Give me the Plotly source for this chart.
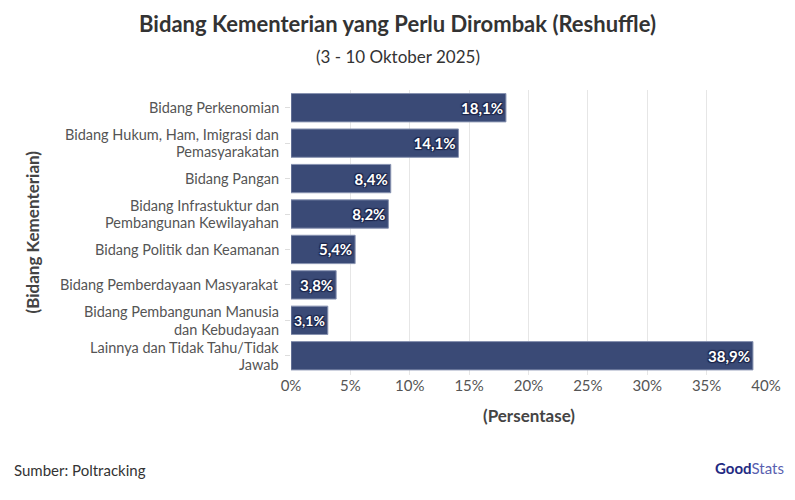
import plotly.graph_objects as go

categories = [
    "Bidang Perkenomian",
    "Bidang Hukum, Ham, Imigrasi dan<br>Pemasyarakatan",
    "Bidang Pangan",
    "Bidang Infrastuktur dan<br>Pembangunan Kewilayahan",
    "Bidang Politik dan Keamanan",
    "Bidang Pemberdayaan Masyarakat",
    "Bidang Pembangunan Manusia<br>dan Kebudayaan",
    "Lainnya dan Tidak Tahu/Tidak<br>Jawab",
]
values = [18.1, 14.1, 8.4, 8.2, 5.4, 3.8, 3.1, 38.9]
labels = ["18,1%", "14,1%", "8,4%", "8,2%", "5,4%", "3,8%", "3,1%", "38,9%"]
tick_vals = [0, 5, 10, 15, 20, 25, 30, 35, 40]
tick_text = ["0%", "5%", "10%", "15%", "20%", "25%", "30%", "35%", "40%"]

FONT = "Lato"
W, H = 795, 500
L, R, T, B = 291, 29, 90, 125
PW = W - L - R
PH = H - T - B
CAT_SIZE = 14.5
LINE = 17.5

def px_x(x):
    return (x - L) / PW

def px_y(y):
    return (H - B - y) / PH

fig = go.Figure(go.Bar(
    x=values, y=categories, orientation="h",
    marker=dict(color="#3a4a76", line=dict(color="#8792b0", width=1)),
    text=labels, textposition="inside", insidetextanchor="end",
    textfont=dict(family=FONT, size=15, color="white", weight="bold",
                  shadow="1px 1px 1px #1b2448, -1px -1px 1px #1b2448, 1px -1px 1px #1b2448, -1px 1px 1px #1b2448"),
    cliponaxis=False,
))

annotations = [
    dict(text="(3 - 10 Oktober 2025)", xref="paper", yref="paper",
         x=px_x(W / 2), y=px_y(56), xanchor="center", yanchor="middle",
         showarrow=False, font=dict(family=FONT, size=17, color="#333333")),
    dict(text="<b>(Persentase)</b>", xref="paper", yref="paper",
         x=0.5, y=px_y(415), xanchor="center", yanchor="middle",
         showarrow=False, font=dict(family=FONT, size=17, color="#444444")),
    dict(text="<b>(Bidang Kementerian)</b>", xref="paper", yref="paper",
         x=px_x(32), y=0.5, xanchor="center", yanchor="middle", textangle=-90,
         showarrow=False, font=dict(family=FONT, size=17, color="#444444")),
    dict(text="Sumber: Poltracking", xref="paper", yref="paper",
         x=px_x(12), y=px_y(470), xanchor="left", yanchor="middle",
         showarrow=False, font=dict(family=FONT, size=15, color="#333333")),
    dict(text="<b>Good</b><span style='color:#5a5fb0'>Stats</span>", xref="paper", yref="paper",
         x=px_x(786), y=px_y(468), xanchor="right", yanchor="middle",
         showarrow=False, font=dict(family=FONT, size=15, color="#232a82")),
]

# category labels, line by line, for the reference's tight line spacing
for cat in categories:
    lines = cat.split("<br>")
    n = len(lines)
    for i, line in enumerate(lines):
        annotations.append(dict(
            text=line, xref="paper", yref="y", x=0, y=cat,
            xanchor="right", yanchor="middle", xshift=-10,
            yshift=LINE * (n - 1) / 2 - LINE * i,
            showarrow=False, font=dict(family=FONT, size=CAT_SIZE, color="#555555")))

fig.update_layout(
    width=W, height=H,
    margin=dict(l=L, r=R, t=T, b=B),
    paper_bgcolor="white", plot_bgcolor="white",
    font=dict(family=FONT, color="#444444"),
    bargap=0.2,
    showlegend=False,
    title=dict(text="<b>Bidang Kementerian yang Perlu Dirombak (Reshuffle)</b>",
               xref="container", x=0.5, xanchor="center",
               yref="container", y=1 - 24 / H, yanchor="middle",
               font=dict(family=FONT, size=22, color="#333333")),
    xaxis=dict(range=[0, 40], tickvals=tick_vals, ticktext=tick_text,
               showgrid=True, gridcolor="#e6e6e6", gridwidth=1,
               zeroline=False, showline=False, automargin=False,
               tickfont=dict(family=FONT, size=15, color="#555555")),
    yaxis=dict(autorange="reversed", ticks="outside", ticklen=5, tickcolor="#dddddd",
               showgrid=False, showline=False, automargin=False,
               showticklabels=False),
    annotations=annotations,
)

fig.write_html("out.html", config={"displayModeBar": False},
               post_script="document.body.style.margin='0px';")
